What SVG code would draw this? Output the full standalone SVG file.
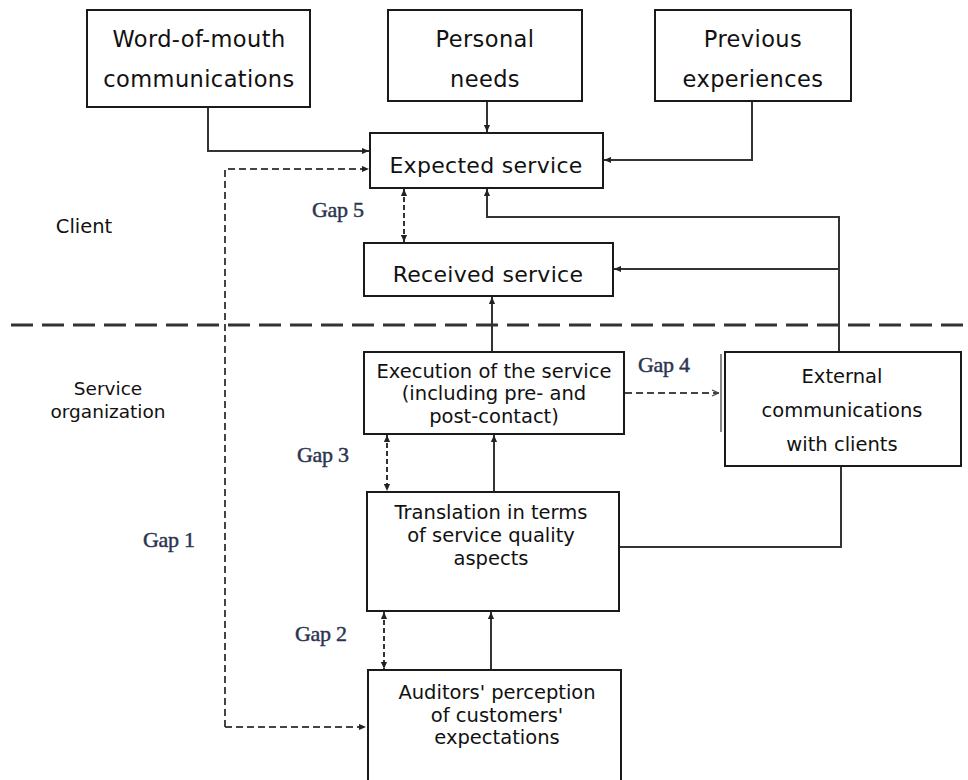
<svg xmlns="http://www.w3.org/2000/svg" width="968" height="780" viewBox="0 0 968 780">
<style>
.box{fill:#fff;stroke:#1a1a1a;stroke-width:2}
.t{font-family:"DejaVu Sans",Verdana,sans-serif;fill:#111;text-anchor:middle}
.big{font-size:22.5px;letter-spacing:0.4px}
.exp{font-size:22px;letter-spacing:0.3px}
.mid{font-size:19.5px}
.side{font-size:18.5px}
.gap{font-family:"Liberation Serif","Times New Roman",serif;font-size:22px;fill:#2b3550;stroke:#2b3550;stroke-width:0.45;letter-spacing:-0.3px}
.ln{fill:none;stroke:#333;stroke-width:2}
.ds{fill:none;stroke:#444;stroke-width:2;stroke-dasharray:7 4}
.dv{fill:none;stroke:#333;stroke-width:2;stroke-dasharray:5 3}
</style>
<defs>
<marker id="a" viewBox="0 0 8 8" refX="8" refY="4" markerWidth="7" markerHeight="7" markerUnits="userSpaceOnUse" orient="auto-start-reverse">
<path d="M0,0.5 L8,4 L0,7.5 z" fill="#222"/>
</marker>
<marker id="o" viewBox="0 0 8 8" refX="8" refY="4" markerWidth="8" markerHeight="8" markerUnits="userSpaceOnUse" orient="auto">
<path d="M1,1 L7.5,4 L1,7" fill="none" stroke="#444" stroke-width="1.3"/>
</marker>
</defs>
<rect width="968" height="780" fill="#fff"/>

<g id="labels">
<text class="t mid" x="84" y="233">Client</text>
<text class="t side" x="108" y="395">Service</text>
<text class="t side" x="108" y="418">organization</text>
<text class="gap" x="143" y="547">Gap 1</text>
<text class="gap" x="295" y="641">Gap 2</text>
<text class="gap" x="297" y="462">Gap 3</text>
<text class="gap" x="638" y="372">Gap 4</text>
<text class="gap" x="312" y="217">Gap 5</text>
</g>

<g id="separator">
<line x1="11" y1="325" x2="968" y2="325" stroke="#333" stroke-width="3" stroke-dasharray="22 9"/>
</g>

<g id="connectors">
<path class="ln" d="M208,107 V151 H369" marker-end="url(#a)"/>
<path class="ln" d="M487,101 V132" marker-end="url(#a)"/>
<path class="ln" d="M752,101 V160 H604" marker-end="url(#a)"/>
<path class="ln" d="M839,352 V217 H487 V189" marker-end="url(#a)"/>
<path class="ln" d="M839,269 H614" marker-end="url(#a)"/>
<path class="ln" d="M492,352 V297" marker-end="url(#a)"/>
<path class="ln" d="M494,492 V435" marker-end="url(#a)"/>
<path class="ln" d="M491,670 V612" marker-end="url(#a)"/>
<path class="ln" d="M619,547 H841 V466"/>
<path class="ds" d="M225,727 V169 H369" marker-end="url(#a)"/>
<path class="ds" d="M225,727 H366" marker-end="url(#a)"/>
<path class="dv" d="M404,189 V242" marker-start="url(#a)" marker-end="url(#a)"/>
<path class="dv" d="M387,435 V491" marker-start="url(#a)" marker-end="url(#a)"/>
<path class="dv" d="M384,612 V669" marker-start="url(#a)" marker-end="url(#a)"/>
<path class="ds" d="M625,393 H719" marker-end="url(#o)"/>
</g>

<g id="word-of-mouth">
<rect class="box" x="87" y="10" width="223" height="97"/>
<text class="t big" x="199" y="47">Word-of-mouth</text>
<text class="t big" x="199" y="87">communications</text>
</g>
<g id="personal-needs">
<rect class="box" x="388" y="10" width="194" height="91"/>
<text class="t big" x="485" y="47">Personal</text>
<text class="t big" x="485" y="87">needs</text>
</g>
<g id="previous-experiences">
<rect class="box" x="655" y="10" width="196" height="91"/>
<text class="t big" x="753" y="47">Previous</text>
<text class="t big" x="753" y="87">experiences</text>
</g>
<g id="expected-service">
<rect class="box" x="370" y="133" width="233" height="55"/>
<text class="t exp" x="486" y="173">Expected service</text>
</g>
<g id="received-service">
<rect class="box" x="364" y="243" width="249" height="53"/>
<text class="t exp" x="488" y="282">Received service</text>
</g>
<g id="execution">
<rect class="box" x="364" y="352" width="260" height="82"/>
<text class="t mid" x="494" y="378">Execution of the service</text>
<text class="t mid" x="494" y="400">(including pre-  and</text>
<text class="t mid" x="494" y="423">post-contact)</text>
</g>
<g id="external-communications">
<line x1="721" y1="354" x2="721" y2="432" stroke="#888" stroke-width="2"/>
<rect class="box" x="725" y="352" width="236" height="114"/>
<text class="t mid" x="842" y="383">External</text>
<text class="t mid" x="842" y="417">communications</text>
<text class="t mid" x="842" y="451">with clients</text>
</g>
<g id="translation">
<rect class="box" x="367" y="492" width="252" height="119"/>
<text class="t mid" x="491" y="519">Translation in terms</text>
<text class="t mid" x="491" y="542">of service quality</text>
<text class="t mid" x="491" y="565">aspects</text>
</g>
<g id="auditors-perception">
<rect class="box" x="368" y="670" width="253" height="130"/>
<text class="t mid" x="497" y="699">Auditors' perception</text>
<text class="t mid" x="497" y="722">of customers'</text>
<text class="t mid" x="497" y="744">expectations</text>
</g>
</svg>
